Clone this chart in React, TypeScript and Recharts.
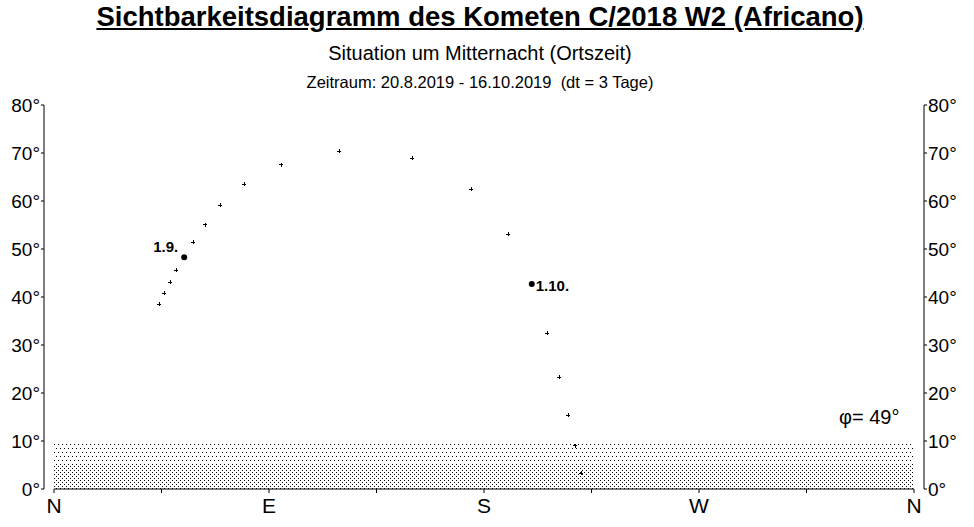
import { ScatterChart, Scatter, XAxis, YAxis, ReferenceArea, ReferenceLine } from 'recharts'

// Kometenbahn C/2018 W2, alle 3 Tage um Mitternacht
const dates = [
    '20.8.', '23.8.', '26.8.', '29.8.', '1.9.', '4.9.', '7.9.', '10.9.', '13.9.', '16.9.',
    '19.9.', '22.9.', '25.9.', '28.9.', '1.10.', '4.10.', '7.10.', '10.10.', '13.10.', '16.10.',
]
const azimuth = [44.1, 46.2, 48.7, 51.2, 54.5, 58.3, 63.3, 69.6, 79.7, 95.1, 119.4, 150.0, 174.7, 190.2, 200.0, 206.5, 211.5, 215.3, 218.2, 220.7]
const altitude = [38.5, 40.8, 43.1, 45.6, 48.3, 51.4, 55.1, 59.1, 63.5, 67.6, 70.4, 68.9, 62.4, 53.1, 42.7, 32.4, 23.3, 15.4, 9.0, 3.3]
const labeledDates = ['1.9.', '1.10.']

const azTicks = [0, 45, 90, 135, 180, 225, 270, 315, 360]
const azLabels: Record<number, string> = { 0: 'N', 90: 'E', 180: 'S', 270: 'W', 360: 'N' }
const altTicks = [0, 10, 20, 30, 40, 50, 60, 70, 80]

const font = '"Liberation Sans", Arial, sans-serif'

const data = dates.map((d, i) => ({
    date: d,
    az: azimuth[i],
    alt: altitude[i],
    label: labeledDates.includes(d) ? d : '',
}))

function CometMark(props: any) {
    const { cx, cy, payload } = props
    if (payload.label) {
        const left = payload.label === '1.9.'
        return (
            <g>
                <circle cx={cx} cy={cy} r={3} fill="#000" />
                <text
                    x={left ? cx - 6 : cx + 4}
                    y={left ? cy - 11 : cy + 1}
                    textAnchor={left ? 'end' : 'start'}
                    dominantBaseline="central"
                    fontFamily={font}
                    fontWeight="bold"
                    fontSize={15}
                    fill="#000"
                >
                    {payload.label}
                </text>
            </g>
        )
    }
    return (
        <g stroke="#000" strokeWidth={1} shapeRendering="crispEdges">
            <line x1={cx - 2} y1={cy} x2={cx + 2} y2={cy} />
            <line x1={cx} y1={cy - 2} x2={cx} y2={cy + 2} />
        </g>
    )
}

const NoMark = () => <g />

const tickStyle = { fontFamily: font, fontSize: 19, fill: '#000' }

export default function App() {
    return (
        <div style={{ position: 'absolute', left: 0, top: 0, width: 974, height: 527, background: '#fff', fontFamily: font }}>
            <div style={{ position: 'absolute', left: 0, width: 960, top: 1, textAlign: 'center', fontSize: 27.5, fontWeight: 'bold', textDecoration: 'underline' }}>
                Sichtbarkeitsdiagramm des Kometen C/2018 W2 (Africano)
            </div>
            <div style={{ position: 'absolute', left: 0, width: 960, top: 42, textAlign: 'center', fontSize: 20 }}>
                Situation um Mitternacht (Ortszeit)
            </div>
            <div style={{ position: 'absolute', left: 0, width: 960, top: 73, textAlign: 'center', fontSize: 16.5, whiteSpace: 'pre' }}>
                {'Zeitraum: 20.8.2019 - 16.10.2019  (dt = 3 Tage)'}
            </div>
            <div style={{ position: 'absolute', left: 839, top: 406, fontSize: 20 }}>φ= 49°</div>
            <ScatterChart width={974} height={527} margin={{ top: 105, right: 0, bottom: 0, left: 0 }} style={{ position: 'absolute', left: 0, top: 0 }}>
                <defs>
                    <pattern id="dense" width={4} height={4} patternUnits="userSpaceOnUse">
                        <rect x={0} y={0} width={1} height={1} fill="#000" shapeRendering="crispEdges" />
                        <rect x={2} y={2} width={1} height={1} fill="#000" shapeRendering="crispEdges" />
                    </pattern>
                    <pattern id="sparse" width={4} height={8} patternUnits="userSpaceOnUse">
                        <rect x={0} y={0} width={1} height={1} fill="#000" shapeRendering="crispEdges" />
                        <rect x={2} y={4} width={1} height={1} fill="#000" shapeRendering="crispEdges" />
                    </pattern>
                </defs>
                <XAxis
                    type="number"
                    dataKey="az"
                    domain={[0, 360]}
                    ticks={azTicks}
                    tickFormatter={(v: number) => azLabels[v] ?? ''}
                    padding={{ left: 10, right: 10 }}
                    axisLine={false}
                    tickLine={{ stroke: '#000' }}
                    tickSize={4}
                    tickMargin={5}
                    height={38}
                    tick={{ ...tickStyle, fontSize: 21 }}
                    interval={0}
                />
                <YAxis
                    yAxisId="left"
                    type="number"
                    dataKey="alt"
                    domain={[0, 80]}
                    ticks={altTicks}
                    tickFormatter={(v: number) => `${v}°`}
                    width={44}
                    axisLine={{ stroke: '#000' }}
                    tickLine={{ stroke: '#000' }}
                    tickSize={3}
                    tickMargin={1}
                    tick={tickStyle}
                    interval={0}
                />
                <YAxis
                    yAxisId="right"
                    orientation="right"
                    type="number"
                    dataKey="alt"
                    domain={[0, 80]}
                    ticks={altTicks}
                    tickFormatter={(v: number) => `${v}°`}
                    width={50}
                    axisLine={{ stroke: '#000' }}
                    tickLine={{ stroke: '#000' }}
                    tickSize={3}
                    tickMargin={1}
                    tick={tickStyle}
                    interval={0}
                />
                <ReferenceArea yAxisId="left" x1={0} x2={360} y1={0} y2={5} fill="url(#dense)" fillOpacity={1} stroke="none" />
                <ReferenceArea yAxisId="left" x1={0} x2={360} y1={5} y2={9.6} fill="url(#sparse)" fillOpacity={1} stroke="none" />
                <ReferenceLine yAxisId="left" segment={[{ x: 0, y: 0 }, { x: 360, y: 0 }]} stroke="#000" strokeWidth={1} />
                <Scatter yAxisId="left" data={data} shape={<CometMark />} isAnimationActive={false} />
                <Scatter yAxisId="right" data={data} shape={<NoMark />} isAnimationActive={false} />
            </ScatterChart>
        </div>
    )
}
